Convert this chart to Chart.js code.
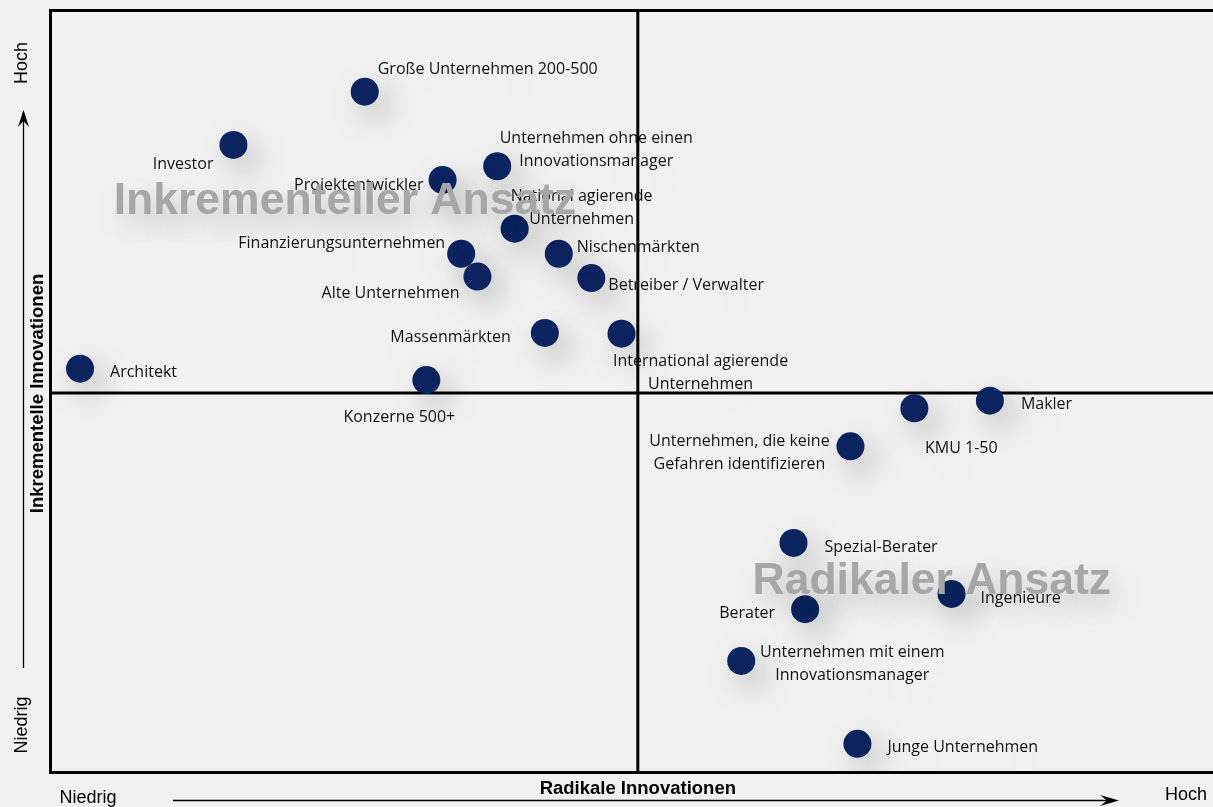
<!DOCTYPE html>
<html><head><meta charset="utf-8">
<script src="https://cdn.jsdelivr.net/npm/chart.js@4.4.1/dist/chart.umd.min.js"></script>
<style>
html,body{margin:0;padding:0;background:#f1f1f1;overflow:hidden;}
#wrap{width:1213px;height:807px;position:relative;}
</style></head><body>
<div id="wrap"><canvas id="c"></canvas></div>
<script>
// Data (x = Radikale Innovationen, y = Inkrementelle Innovationen, 0..100)
const categories = [
  "Große Unternehmen 200-500","Investor","Unternehmen ohne einen\nInnovationsmanager","Projektentwickler",
  "National agierende\nUnternehmen","Finanzierungsunternehmen","Nischenmärkten","Alte Unternehmen",
  "Betreiber / Verwalter","Massenmärkten","International agierende\nUnternehmen","Architekt",
  "Konzerne 500+","KMU 1-50","Makler","Unternehmen, die keine\nGefahren identifizieren",
  "Spezial-Berater","Ingenieure","Berater","Unternehmen mit einem\nInnovationsmanager","Junge Unternehmen"
];
const radikalValues = [27.0,15.7,38.4,33.7,39.9,35.3,43.7,36.7,46.5,42.5,49.1,2.5,32.3,74.3,80.8,68.8,63.9,77.5,64.9,59.4,69.4];
const inkrementellValues = [89.4,82.4,79.6,77.8,71.4,68.1,68.1,65.1,64.9,57.7,57.6,53.0,51.5,47.8,48.8,42.8,30.1,23.4,21.4,14.6,3.7];
const quadrantX = 50.5, quadrantY = 49.8;
const axisTitles = {x:"Radikale Innovationen", y:"Inkrementelle Innovationen", low:"Niedrig", high:"Hoch"};
const zoneLabels = ["Inkrementeller Ansatz","Radikaler Ansatz"];
const zoneAnchors = [[25.3,75.0],[75.8,25.0]];

// label placement (styling): pixel offset from the point and alignment
const labelPlace = [
  [13,-24,'left'],[-20,18,'right'],[99,-30,'center'],[-19,3,'right'],
  [67,-34,'center'],[-16,-12,'right'],[18,-8,'left'],[-18,15,'right'],
  [17,5,'left'],[-34,3,'right'],[79,26,'center'],[30,2,'left'],
  [-27,35,'center'],[47,38,'center'],[31,2,'left'],[-111,-7,'center'],
  [31,2,'left'],[29,3,'left'],[-30,2,'right'],[111,-10,'center'],[30,2,'left']
];

const deco = {
  id:'deco',
  beforeDraw(chart){
    const ctx = chart.ctx, a = chart.chartArea;
    const xs = chart.scales.x, ys = chart.scales.y;
    ctx.save();
    ctx.fillStyle = '#f1f1f1';
    ctx.fillRect(0,0,chart.width,chart.height);
    // frame
    ctx.strokeStyle = '#000'; ctx.lineWidth = 3;
    ctx.beginPath();
    ctx.moveTo(chart.width+5, a.top-0.5); ctx.lineTo(a.left-0.5, a.top-0.5);
    ctx.lineTo(a.left-0.5, a.bottom+0.5); ctx.lineTo(chart.width+5, a.bottom+0.5);
    ctx.stroke();
    // quadrant lines
    const qx = xs.getPixelForValue(quadrantX), qy = ys.getPixelForValue(quadrantY);
    ctx.beginPath();
    ctx.moveTo(qx, a.top); ctx.lineTo(qx, a.bottom);
    ctx.moveTo(a.left, qy); ctx.lineTo(chart.width+5, qy);
    ctx.stroke();
    // axis titles
    ctx.fillStyle = '#000';
    ctx.font = 'bold 18.5px "Liberation Sans", Arial, sans-serif';
    ctx.textAlign = 'center'; ctx.textBaseline = 'middle';
    ctx.fillText(axisTitles.x, qx, a.bottom + 17);
    ctx.save();
    ctx.translate(a.left - 13, (a.top + a.bottom)/2 + 2);
    ctx.rotate(-Math.PI/2);
    ctx.fillText(axisTitles.y, 0, 0);
    ctx.restore();
    // low / high labels
    ctx.font = '18px "Liberation Sans", Arial, sans-serif';
    ctx.fillText(axisTitles.low, 88, 798);
    ctx.fillText(axisTitles.high, 1186, 795);
    ctx.save(); ctx.translate(22, 63); ctx.rotate(-Math.PI/2); ctx.fillText(axisTitles.high,0,0); ctx.restore();
    ctx.save(); ctx.translate(22, 725); ctx.rotate(-Math.PI/2); ctx.fillText(axisTitles.low,0,0); ctx.restore();
    // arrows
    ctx.lineWidth = 1.3;
    ctx.beginPath(); ctx.moveTo(23.5, 668); ctx.lineTo(23.5, 112); ctx.stroke();
    ctx.beginPath(); ctx.moveTo(23.5,110); ctx.lineTo(18,127); ctx.lineTo(23.5,121); ctx.lineTo(29,127); ctx.closePath(); ctx.fill();
    ctx.beginPath(); ctx.moveTo(173, 800.5); ctx.lineTo(1112, 800.5); ctx.stroke();
    ctx.beginPath(); ctx.moveTo(1119,800.5); ctx.lineTo(1100,795); ctx.lineTo(1107,800.5); ctx.lineTo(1100,806); ctx.closePath(); ctx.fill();
    ctx.restore();
  },
  beforeDatasetsDraw(chart){
    const ctx = chart.ctx;
    ctx.save();
    ctx.shadowColor = 'rgba(0,0,0,0.25)';
    ctx.shadowBlur = 30; ctx.shadowOffsetX = 10; ctx.shadowOffsetY = 12;
  },
  afterDatasetsDraw(chart){
    const ctx = chart.ctx;
    ctx.restore();
    const meta = chart.getDatasetMeta(0);
    ctx.save();
    ctx.font = '16px "Open Sans", sans-serif';
    ctx.textBaseline = 'middle';
    meta.data.forEach((pt,i)=>{
      const [dx,dy,al] = labelPlace[i];
      const lines = categories[i].split('\n');
      ctx.textAlign = al;
      lines.forEach((ln,k)=>{
        ctx.shadowColor = 'rgba(0,0,0,0.22)'; ctx.shadowBlur = 40; ctx.shadowOffsetX = 12; ctx.shadowOffsetY = 16;
        ctx.fillStyle = '#111';
        ctx.fillText(ln, pt.x+dx, pt.y+dy+2+k*23);
      });
    });
    ctx.restore();
    // watermark zone labels
    ctx.save();
    ctx.font = 'bold 44.5px "Liberation Sans", Arial, sans-serif';
    ctx.textAlign = 'center'; ctx.textBaseline = 'middle';
    ctx.shadowColor = 'rgba(0,0,0,0.22)'; ctx.shadowBlur = 28; ctx.shadowOffsetX = 8; ctx.shadowOffsetY = 12;
    ctx.fillStyle = '#a6a6a6';
    zoneLabels.forEach((t,i)=>{
      ctx.fillText(t, chart.scales.x.getPixelForValue(zoneAnchors[i][0]), chart.scales.y.getPixelForValue(zoneAnchors[i][1]));
    });
    ctx.restore();
  }
};

new Chart(document.getElementById('c'), {
  type:'scatter',
  data:{ datasets:[{
    data: radikalValues.map((v,i)=>({x:v, y:inkrementellValues[i]})),
    backgroundColor:'#0b2460', borderColor:'#0b2460', pointRadius:14, pointHoverRadius:14, borderWidth:0
  }]},
  options:{
    responsive:true, maintainAspectRatio:false, animation:false,
    layout:{autoPadding:false, padding:{left:51,top:11,right:0,bottom:35}},
    plugins:{legend:{display:false}, tooltip:{enabled:false}},
    scales:{
      x:{min:0,max:100,display:false},
      y:{min:0,max:100,display:false}
    },
    events:[]
  },
  plugins:[deco]
});
</script>
</body></html>
